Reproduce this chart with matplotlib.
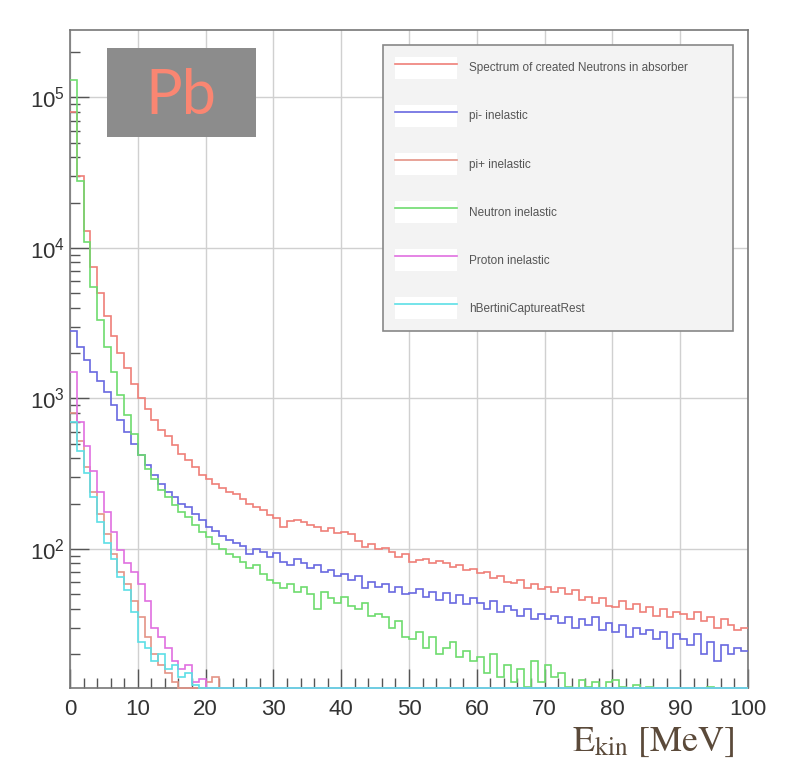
import numpy as np
import matplotlib
matplotlib.use("Agg")
import matplotlib.pyplot as plt
from matplotlib.ticker import MultipleLocator, LogLocator, NullFormatter
from matplotlib.patches import Rectangle
from matplotlib.legend_handler import HandlerTuple

# histogram bin edges, 1 MeV bins from 0 to 100 MeV
edges = np.arange(0, 101, 1)

spectrum = [80000, 30000, 13000, 7500, 5000, 3500, 2600, 2000, 1600, 1250,
            1000, 850, 720, 620, 560, 490, 430, 390, 350, 310,
            290, 270, 255, 240, 230, 215, 200, 190, 180, 168,
            160, 140, 152, 155, 150, 145, 140, 132, 138, 128,
            130, 125, 112, 103, 108, 100, 102, 95, 88, 92,
            82, 84, 86, 80, 83, 81, 76, 78, 72, 74,
            69, 70, 64, 66, 60, 59, 62, 55, 58, 54,
            56, 52, 55, 50, 53, 46, 48, 44, 47, 42,
            41, 45, 40, 43, 38, 41, 36, 40, 35, 38,
            37, 34, 38, 33, 35, 30, 34, 31, 29, 30]

pi_minus = [2800, 2200, 1800, 1500, 1300, 1100, 900, 720, 600, 500,
            420, 360, 310, 270, 240, 220, 200, 190, 170, 155,
            140, 132, 122, 115, 110, 105, 92, 100, 95, 88,
            94, 82, 78, 85, 80, 75, 78, 70, 72, 66,
            68, 62, 66, 55, 60, 56, 58, 52, 56, 50,
            51, 54, 48, 52, 46, 51, 44, 49, 43, 47,
            44, 40, 45, 38, 42, 39, 36, 40, 34, 37,
            34, 36, 32, 35, 30, 34, 31, 35, 29, 32,
            28, 31, 26, 30, 27, 29, 25, 28, 22, 27,
            25, 23, 27, 20, 24, 18, 23, 20, 22, 21]

pi_plus = [800, 520, 350, 240, 170, 125, 92, 70, 58, 45,
           35, 26, 20, 17, 15, 13, 0, 0, 0, 0,
           13, 14] + [0] * 78

neutron = [130000, 28000, 11000, 5500, 3300, 2200, 1500, 1050, 780, 580,
           420, 340, 290, 245, 220, 195, 175, 163, 145, 130,
           120, 108, 100, 92, 88, 82, 75, 78, 68, 62,
           59, 55, 58, 52, 56, 50, 40, 52, 47, 44,
           48, 42, 40, 44, 36, 37, 35, 30, 33, 26,
           25, 28, 22, 26, 20, 22, 24, 19, 21, 18,
           19, 15, 20, 14, 17, 13, 16, 12, 18, 13,
           17, 14, 15, 12, 11, 13.5, 12, 13, 11, 13,
           13.5, 12, 11, 12.5, 10, 12, 0, 11, 0, 0,
           0, 0, 0, 0, 12, 0, 0, 0, 0, 0]

proton = [1500, 700, 480, 330, 240, 175, 130, 98, 80, 70,
          58, 45, 30, 26, 22, 18, 16, 17, 13, 13.6] + [0] * 80

capture = [700, 450, 320, 220, 150, 110, 85, 65, 53, 38,
           24, 22, 18, 20, 16, 17, 14, 15, 12.5] + [0] * 81

labels = ["Spectrum of created Neutrons in absorber", "pi- inelastic",
          "pi+ inelastic", "Neutron inelastic", "Proton inelastic",
          "hBertiniCaptureatRest"]
series = [spectrum, pi_minus, pi_plus, neutron, proton, capture]
colors = ["#ef7f78", "#6868e0", "#e49486", "#6edc6e", "#e070e0", "#5cdfe6"]

ylo, yhi = 11.9, 2.8e5

plt.rcParams["font.family"] = ["Liberation Sans", "DejaVu Sans"]
plt.rcParams["mathtext.fontset"] = "custom"
plt.rcParams["mathtext.rm"] = "Liberation Sans"

fig = plt.figure(figsize=(7.98, 7.65), dpi=100)
ax = fig.add_axes([70 / 798, 1 - 688 / 765, 678 / 798, 658 / 765])
ax.set_yscale("log")

for vals, col, lab in zip(series, colors, labels):
    v = np.maximum(np.array(vals, dtype=float), ylo)
    ax.stairs(v, edges, color=col, linewidth=1.2, baseline=None, label=lab,
              zorder=3, clip_on=False)

ax.set_xlim(0, 100)
ax.set_ylim(ylo, yhi)

ax.grid(True, which="major", color="#d0d0d0", linewidth=1.0)
ax.set_axisbelow(True)
ax.xaxis.set_major_locator(MultipleLocator(10))
ax.xaxis.set_minor_locator(MultipleLocator(2))
ax.yaxis.set_major_locator(LogLocator(base=10))
ax.yaxis.set_minor_locator(LogLocator(base=10, subs=np.arange(2, 10)))
ax.yaxis.set_minor_formatter(NullFormatter())
ax.tick_params(which="both", direction="in", colors="#555555", labelcolor="#333333",
               labelsize=16)
ax.tick_params(which="major", length=14, width=1)
ax.tick_params(which="minor", length=7, width=1)
ax.tick_params(axis="x", pad=8)
for s in ax.spines.values():
    s.set_color("#777777")
    s.set_linewidth(1.2)

# legend box with white boxes behind the line samples
leg_handles = [(Rectangle((0, 0), 1, 1, facecolor="white", edgecolor="none"),
                plt.Line2D([], [], color=c, lw=1.2)) for c in colors]
leg = ax.legend(handles=leg_handles, labels=labels, loc="upper left",
                handler_map={tuple: HandlerTuple(ndivide=1, pad=0)},
                bbox_to_anchor=((383 - 70) / 678, 0, 350 / 678, 1 - 15 / 658),
                bbox_transform=ax.transAxes, mode="expand",
                fontsize=8.5, labelspacing=2.2, handlelength=5.3, handleheight=2.5,
                handletextpad=1.0, borderpad=1.0, borderaxespad=0,
                fancybox=False, framealpha=1,
                facecolor="#f3f3f3", edgecolor="#888888")
leg.get_frame().set_linewidth(1.2)
for t in leg.get_texts():
    t.set_color("#555555")

# Pb label
fig.add_artist(Rectangle((107 / 798, 1 - 137 / 765), 149 / 798, 89 / 765,
                         transform=fig.transFigure, facecolor="#8c8c8c",
                         edgecolor="none", zorder=5))
fig.text(181 / 798, 1 - 96 / 765, "Pb", color="#fa8672", fontsize=44,
         family=["Lato", "DejaVu Sans"], ha="center", va="center", zorder=6)

fig.text(735 / 798, 1 - 742 / 765, r"E$_{\mathrm{kin}}$ [MeV]", color="#5b4a3a",
         fontsize=26, family=["STIXGeneral"], math_fontfamily="stix",
         ha="right", va="center")

fig.savefig("out.png", dpi=100)
